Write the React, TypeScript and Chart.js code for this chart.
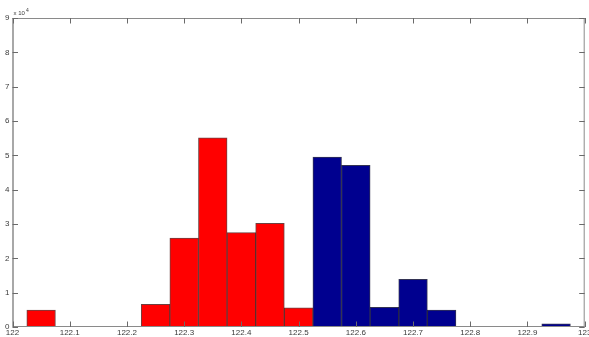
import React, { useEffect, useRef } from "react";
import { Chart, registerables } from "chart.js";

Chart.register(...registerables);

// Histogram bin centres (x) and counts (in units of 10^4)
const redCenters = [122.05, 122.25, 122.3, 122.35, 122.4, 122.45, 122.5];
const redCounts = [0.49, 0.66, 2.59, 5.51, 2.75, 3.02, 0.56];
const blueCenters = [122.55, 122.6, 122.65, 122.7, 122.75, 122.95];
const blueCounts = [4.95, 4.71, 0.57, 1.39, 0.49, 0.09];

const xTicks = [122, 122.1, 122.2, 122.3, 122.4, 122.5, 122.6, 122.7, 122.8, 122.9, 123];
const xTickLabels = ["122", "122.1", "122.2", "122.3", "122.4", "122.5", "122.6", "122.7", "122.8", "122.9", "123"];
const yTicks = [0, 1, 2, 3, 4, 5, 6, 7, 8, 9];
const yTickLabels = ["0", "1", "2", "3", "4", "5", "6", "7", "8", "9"];
const exponentLabel = "x 10";
const exponentPower = "4";

const axesPlugin = {
  id: "matlabAxes",
  afterDatasetsDraw(chart: any) {
    const { ctx, chartArea, scales } = chart;
    const { left, right, top, bottom } = chartArea;
    const xs = scales.x;
    const ys = scales.y;
    ctx.save();
    // box
    ctx.strokeStyle = "#8a8a8a";
    ctx.lineWidth = 1;
    ctx.beginPath();
    ctx.moveTo(left, top + 0.5);
    ctx.lineTo(right, top + 0.5);
    ctx.moveTo(right - 0.5, top);
    ctx.lineTo(right - 0.5, bottom);
    ctx.moveTo(left, bottom - 0.5);
    ctx.lineTo(right, bottom - 0.5);
    ctx.stroke();
    ctx.strokeStyle = "#a8a8a8";
    ctx.lineWidth = 2;
    ctx.beginPath();
    ctx.moveTo(left + 0.5, top);
    ctx.lineTo(left + 0.5, bottom);
    ctx.stroke();

    // ticks
    const tl = 5.5;
    ctx.strokeStyle = "#6a6a6a";
    ctx.lineWidth = 1;
    ctx.beginPath();
    xTicks.forEach((v) => {
      const px = Math.round(xs.getPixelForValue(v)) + 0.5;
      ctx.moveTo(px, bottom);
      ctx.lineTo(px, bottom - tl);
      ctx.moveTo(px, top);
      ctx.lineTo(px, top + tl);
    });
    yTicks.forEach((v) => {
      const py = Math.round(ys.getPixelForValue(v)) + 0.5;
      ctx.moveTo(left, py);
      ctx.lineTo(left + tl, py);
      ctx.moveTo(right, py);
      ctx.lineTo(right - tl, py);
    });
    ctx.stroke();

    // labels
    ctx.fillStyle = "#3a3a3a";
    ctx.font = "8px 'Liberation Sans', Arial, sans-serif";
    ctx.textAlign = "center";
    ctx.textBaseline = "top";
    xTicks.forEach((v, i) => {
      ctx.fillText(xTickLabels[i], xs.getPixelForValue(v), bottom + 2);
    });
    ctx.textAlign = "right";
    ctx.textBaseline = "middle";
    yTicks.forEach((v, i) => {
      ctx.fillText(yTickLabels[i], left - 3, ys.getPixelForValue(v));
    });
    // exponent
    ctx.textAlign = "left";
    ctx.textBaseline = "alphabetic";
    ctx.font = "6px 'Liberation Sans', Arial, sans-serif";
    ctx.fillText(exponentLabel, left + 1, top - 3);
    ctx.font = "5px 'Liberation Sans', Arial, sans-serif";
    ctx.fillText(exponentPower, left + 13.5, top - 6);
    ctx.restore();
  },
};

export default function App() {
  const ref = useRef<HTMLCanvasElement>(null);
  useEffect(() => {
    document.body.style.margin = "0";
    const canvas = ref.current;
    if (!canvas) return;
    const chart = new Chart(canvas, {
      type: "bar",
      data: {
        datasets: [
          {
            data: redCenters.map((x, i) => ({ x, y: redCounts[i] })),
            backgroundColor: "#ff0000",
            borderColor: "rgba(60,0,0,0.75)",
            borderWidth: 1,
            grouped: false,
            barPercentage: 1,
            categoryPercentage: 1,
          } as any,
          {
            data: blueCenters.map((x, i) => ({ x, y: blueCounts[i] })),
            backgroundColor: "#00008f",
            borderColor: "rgba(0,0,40,0.8)",
            borderWidth: 1,
            grouped: false,
            barPercentage: 1,
            categoryPercentage: 1,
          } as any,
        ],
      },
      options: {
        animation: false,
        responsive: true,
        maintainAspectRatio: false,
        layout: { padding: { left: 12.5, right: 4.3, top: 18, bottom: 10 } },
        plugins: { legend: { display: false }, tooltip: { enabled: false } },
        scales: {
          x: {
            type: "linear",
            min: 122,
            max: 123,
            offset: false,
            display: false,
            ticks: { stepSize: 0.1 },
          },
          y: {
            type: "linear",
            min: 0,
            max: 9,
            display: false,
            ticks: { stepSize: 1 },
          },
        },
      },
      plugins: [axesPlugin],
    });
    return () => chart.destroy();
  }, []);
  return (
    <div style={{ width: 589, height: 337, position: "relative", background: "#fff" }}>
      <canvas ref={ref} />
    </div>
  );
}
